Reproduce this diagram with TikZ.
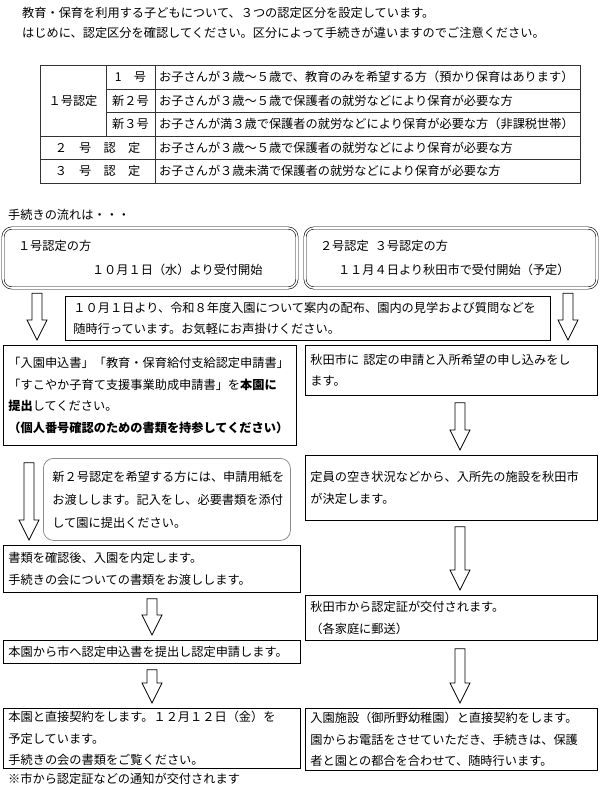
\documentclass[tikz,border=0pt]{standalone}
\usepackage{fontspec}
\setmainfont{Noto Sans CJK JP}
\usetikzlibrary{calc}

\tikzset{
  flow/.style={draw, line width=0.8pt, anchor=north west, align=left, inner xsep=5pt, inner ysep=0pt},
  head/.style={draw, double, double distance=1.6pt, line width=0.6pt, rounded corners=9pt, align=left, inner xsep=15pt, minimum height=60pt},
  softbox/.style={draw=black!45, line width=0.8pt, rounded corners=10pt, anchor=north west, align=left, inner xsep=9pt, inner ysep=0pt},
  hollow/.style={draw, line width=0.7pt, fill=white},
  grid/.style={draw=black!80, line width=0.6pt},
  plain/.style={anchor=west, inner sep=0pt}
}

% hollow block arrow: [gap below source]{x}{source}{target}
\newcommand\hollowarrow[4][6]{%
  \draw[hollow] let \p1=(#3), \p2=(#4) in
    (#2pt-5pt,\y1-#1pt) -- (#2pt+5pt,\y1-#1pt) -- (#2pt+5pt,\y2+25pt)
    -- (#2pt+10pt,\y2+25pt) -- (#2pt,\y2+5pt) -- (#2pt-10pt,\y2+25pt)
    -- (#2pt-5pt,\y2+25pt) -- cycle;}

\begin{document}
\begin{tikzpicture}[x=1pt, y=-1pt, font=\fontsize{12.2}{21.5}\selectfont]
  \useasboundingbox (0,0) rectangle (600,787);

  \node[plain] (intro1) at (22,13) {教育・保育を利用する子どもについて、３つの認定区分を設定しています。};
  \node[plain] (intro2) at (22,33) {はじめに、認定区分を確認してください。区分によって手続きが違いますのでご注意ください。};

  % table
  \draw[grid] (40,65.5) rectangle (580,183);
  \draw[grid] (106,89) -- (580,89) (106,112.5) -- (580,112.5)
              (40,136) -- (580,136) (40,159.5) -- (580,159.5);
  \draw[grid] (106,65.5) -- (106,136) (155,65.5) -- (155,183);
  \node (t1) at (73,101) {１号認定};
  \node (s1) at (130.5,77.3) {1　号};
  \node (s2) at (130.5,100.8) {新２号};
  \node (s3) at (130.5,124.3) {新３号};
  \node (t2) at (97.5,147.8) {２　号　認　定};
  \node (t3) at (97.5,171.3) {３　号　認　定};
  \node[plain] (d1) at (159,77.3) {お子さんが３歳～５歳で、教育のみを希望する方（預かり保育はあります）};
  \node[plain] (d2) at (159,100.8) {お子さんが３歳～５歳で保護者の就労などにより保育が必要な方};
  \node[plain] (d3) at (159,124.3) {お子さんが満３歳で保護者の就労などにより保育が必要な方（非課税世帯）};
  \node[plain] (d4) at (159,147.8) {お子さんが３歳～５歳で保護者の就労などにより保育が必要な方};
  \node[plain] (d5) at (159,171.3) {お子さんが３歳未満で保護者の就労などにより保育が必要な方};

  \node[plain] (flowtitle) at (8,215) {手続きの流れは・・・};

  \node[head, text width=264pt] (hd1) at (150,258)
    {１号認定の方\\[2.5pt]\hspace*{74pt}１０月１日（水）より受付開始};
  \node[head, text width=262pt] (hd2) at (451,258)
    {２号認定\hspace{6pt}３号認定の方\\[2.5pt]\hspace*{18pt}１１月４日より秋田市で受付開始（予定）};

  \node[flow, inner xsep=8pt, text width=469pt, minimum height=44pt] (info) at (65,296)
    {１０月１日より、令和８年度入園について案内の配布、園内の見学および質問などを\\
     随時行っています。お気軽にお声掛けください。};

  % left column
  \node[flow, text width=283pt, minimum height=100pt] (reg1) at (3,345)
    {「入園申込書」「教育・保育給付支給認定申請書」\\
     「すこやか子育て支援事業助成申請書」を\textbf{本園に}\\
     \textbf{提出}してください。\\
     \textbf{（個人番号確認のための書類を持参してください）}};
  \node[softbox, text width=229pt, minimum height=82pt] (new2) at (43,458)
    {新２号認定を希望する方には、申請用紙を\\[1.5pt]
     お渡しします。記入をし、必要書類を添付\\[1.5pt]
     して園に提出ください。};
  \node[flow, text width=287pt, minimum height=47pt] (reg2) at (3,545)
    {書類を確認後、入園を内定します。\\
     手続きの会についての書類をお渡しします。};
  \node[flow, text width=287pt, minimum height=23pt] (reg3) at (3,640)
    {本園から市へ認定申込書を提出し認定申請します。};
  \node[flow, text width=287pt, minimum height=60pt] (reg4) at (3,708)
    {本園と直接契約をします。１２月１２日（金）を\\
     予定しています。\\
     手続きの会の書類をご覧ください。};
  \node[plain] (foot) at (8,779) {※市から認定証などの通知が交付されます};

  % right column
  \node[flow, text width=282pt, minimum height=50pt] (city1) at (305,345)
    {秋田市に 認定の申請と入所希望の申し込みをし\\ます。};
  \node[flow, text width=282pt, minimum height=65pt] (city2) at (305,455)
    {定員の空き状況などから、入所先の施設を秋田市\\が決定します。\\[4pt]};
  \node[flow, text width=282pt, minimum height=45pt] (city3) at (305,595)
    {秋田市から認定証が交付されます。\\（各家庭に郵送）};
  \node[flow, text width=282pt, minimum height=62pt] (city4) at (305,708)
    {入園施設（御所野幼稚園）と直接契約をします。\\
     園からお電話をさせていただき、手続きは、保護\\
     者と園との都合を合わせて、随時行います。};

  \hollowarrow[5]{37}{hd1.south}{reg1.north}
  \hollowarrow[5]{568}{hd2.south}{city1.north}
  \hollowarrow[7]{460}{city1.south}{city2.north}
  \hollowarrow[17]{29}{reg1.south}{reg2.north}
  \hollowarrow{460}{city2.south}{city3.north}
  \hollowarrow{152}{reg2.south}{reg3.north}
  \hollowarrow{152}{reg3.south}{reg4.north}
  \hollowarrow[8]{460}{city3.south}{city4.north}
\end{tikzpicture}
\end{document}
